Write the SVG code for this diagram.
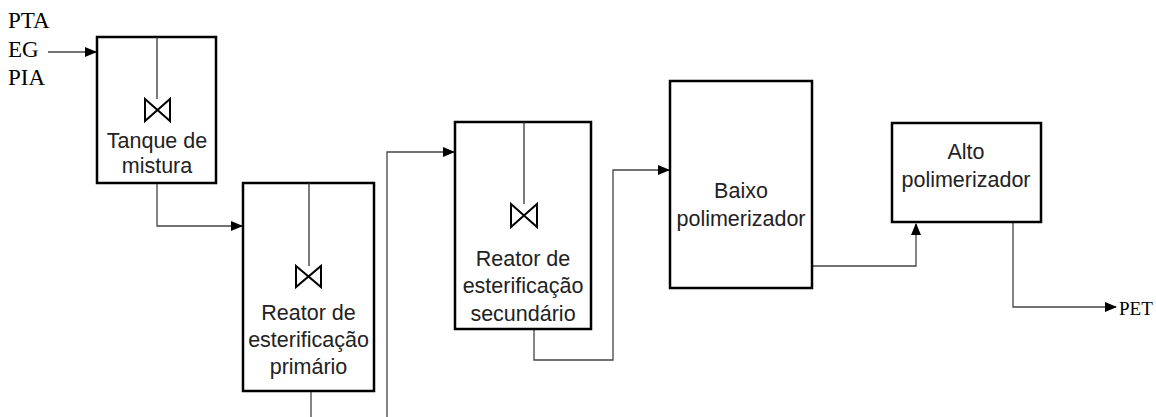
<svg xmlns="http://www.w3.org/2000/svg" width="1156" height="417" viewBox="0 0 1156 417">
  <style>
    .box { fill: #ffffff; stroke: #000000; stroke-width: 2.5; }
    .shaft { stroke: #333333; stroke-width: 1.3; fill: none; }
    .valve { fill: none; stroke: #000000; stroke-width: 2; stroke-linejoin: miter; }
    .lbl { font-family: "Liberation Sans", Arial, sans-serif; font-size: 21.5px; fill: #222222; text-anchor: middle; }
    .stream { font-family: "Liberation Serif", "Times New Roman", serif; fill: #000000; }
    .pipe { fill: none; stroke: #444444; stroke-width: 1.3; }
  </style>
  <defs>
    <marker id="arrow" markerUnits="userSpaceOnUse" markerWidth="12" markerHeight="10" refX="11" refY="5" orient="auto">
      <path d="M0,0 L12,5 L0,10 Z" fill="#000000"/>
    </marker>
  </defs>

  <rect width="1156" height="417" fill="#ffffff"/>

  <!-- feed streams -->
  <g id="feed">
    <text class="stream" x="8" y="28" font-size="23px">PTA</text>
    <text class="stream" x="8" y="57" font-size="23px">EG</text>
    <text class="stream" x="8" y="85" font-size="23px">PIA</text>
  </g>

  <!-- connectors -->
  <g id="connectors">
    <path class="pipe" d="M48,52 H96" marker-end="url(#arrow)"/>
    <path class="pipe" d="M157,183 V226 H242" marker-end="url(#arrow)"/>
    <path class="pipe" d="M311,391 V417"/>
    <path class="pipe" d="M387,417 V152 H454" marker-end="url(#arrow)"/>
    <path class="pipe" d="M534,329 V360 H613 V170 H669" marker-end="url(#arrow)"/>
    <path class="pipe" d="M812,266 H916 V224" marker-end="url(#arrow)"/>
    <path class="pipe" d="M1013,222 V307 H1116" marker-end="url(#arrow)"/>
  </g>

  <!-- mixing tank -->
  <g id="tanque-mistura">
    <rect class="box" x="97" y="37" width="119" height="146"/>
    <line class="shaft" x1="157" y1="37" x2="157" y2="99"/>
    <path class="valve" d="M145,99 L170,121 L170,99 L145,121 Z"/>
    <text class="lbl" x="157" y="148">Tanque de</text>
    <text class="lbl" x="157" y="173">mistura</text>
  </g>

  <!-- primary esterification reactor -->
  <g id="reator-primario">
    <rect class="box" x="243" y="183" width="131" height="208"/>
    <line class="shaft" x1="309" y1="183" x2="309" y2="266"/>
    <path class="valve" d="M296,266 L321,287 L321,266 L296,287 Z"/>
    <text class="lbl" x="308.5" y="320">Reator de</text>
    <text class="lbl" x="308.5" y="347">esterificação</text>
    <text class="lbl" x="308.5" y="374">primário</text>
  </g>

  <!-- secondary esterification reactor -->
  <g id="reator-secundario">
    <rect class="box" x="455" y="122" width="136" height="207"/>
    <line class="shaft" x1="524" y1="122" x2="524" y2="204"/>
    <path class="valve" d="M511,204 L537,227 L537,204 L511,227 Z"/>
    <text class="lbl" x="523" y="266">Reator de</text>
    <text class="lbl" x="523" y="293">esterificação</text>
    <text class="lbl" x="523" y="321">secundário</text>
  </g>

  <!-- low polymerizer -->
  <g id="baixo-polimerizador">
    <rect class="box" x="670" y="81" width="142" height="207"/>
    <text class="lbl" x="741" y="198">Baixo</text>
    <text class="lbl" x="741" y="226">polimerizador</text>
  </g>

  <!-- high polymerizer -->
  <g id="alto-polimerizador">
    <rect class="box" x="892" y="123" width="149" height="99"/>
    <text class="lbl" x="966" y="159">Alto</text>
    <text class="lbl" x="966" y="187">polimerizador</text>
  </g>

  <!-- product -->
  <g id="produto">
    <text class="stream" x="1119" y="315" font-size="19px">PET</text>
  </g>
</svg>
